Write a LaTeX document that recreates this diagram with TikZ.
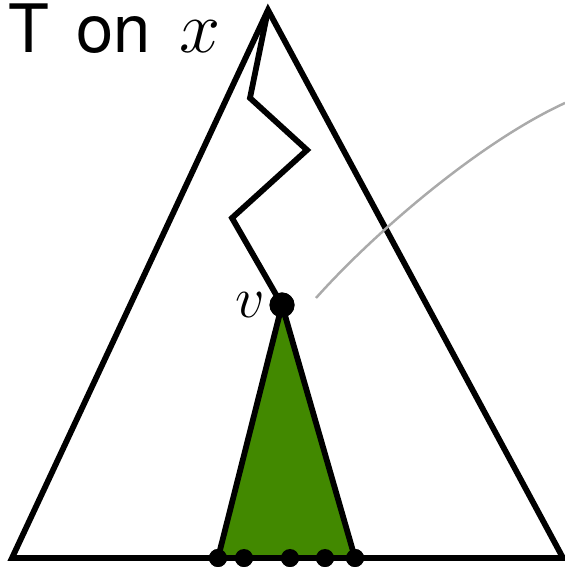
\RequirePackage{fix-cm}
\documentclass[tikz,border=0pt]{standalone}
\usepackage{fontspec}
\setsansfont{TeX Gyre Heros}
\usepackage{tikz}
\usetikzlibrary{positioning}
\definecolor{subgreen}{RGB}{66, 137, 0}
\definecolor{linkgray}{RGB}{170, 170, 170}
\tikzset{
  edge/.style={draw=black, line width=3.3pt, line join=miter},
  leaf/.style={circle, fill=black, inner sep=0pt, minimum size=0.36cm},
  vert/.style={circle, fill=black, inner sep=0pt, minimum size=0.5cm},
  link/.style={draw=linkgray, line width=1.4pt},
  bigtext/.style={font=\fontsize{38}{44}\selectfont\sffamily}
}
\begin{document}
\begin{tikzpicture}
\useasboundingbox (0,0) rectangle (11.3,11.44);
\clip (0,0) rectangle (11.3,11.44);
% big tree
\coordinate (top)   at (5.36,11.24);
\coordinate (left)  at (0.24,0.28);
\coordinate (right) at (11.26,0.28);
\draw[edge] (top) -- (left) -- (right) -- cycle;
% path down to v
\node (v) [vert] at (5.64,5.34) {};
\coordinate (z1) at (5.0,9.48);
\coordinate (z2) at (6.14,8.44);
\coordinate (z3) at (4.64,7.08);
\draw[edge] (top) -- (z1) -- (z2) -- (z3) -- (v.center);
% subtree of v
\node (l1) [leaf] at (4.36,0.28) {};
\node (l2) [leaf] at (4.88,0.28) {};
\node (l3) [leaf] at (5.80,0.28) {};
\node (l4) [leaf] at (6.50,0.28) {};
\node (l5) [leaf] at (7.10,0.28) {};
\filldraw[edge, fill=subgreen] (v.center) -- (l1.center) -- (l5.center) -- cycle;
\foreach \n in {l1,l2,l3,l4,l5} \node[leaf] at (\n) {};
\node[vert] at (v) {};
\node (vlab) [left=2pt of v, font=\fontsize{33}{40}\selectfont, inner sep=0pt] {$v$};
% labels
\node (title) [bigtext, anchor=base west, inner sep=0pt] at (0.16,10.38)
  {T\hspace{0.18cm} on\hspace{0.2cm} {\fontsize{42}{48}\selectfont$x$}};
\coordinate (far) at (11.3,9.38);
\draw[link] (6.32,5.48) coordinate (near) .. controls (7.5,6.8) and (9.6,8.6) .. (far);
\end{tikzpicture}
\end{document}
